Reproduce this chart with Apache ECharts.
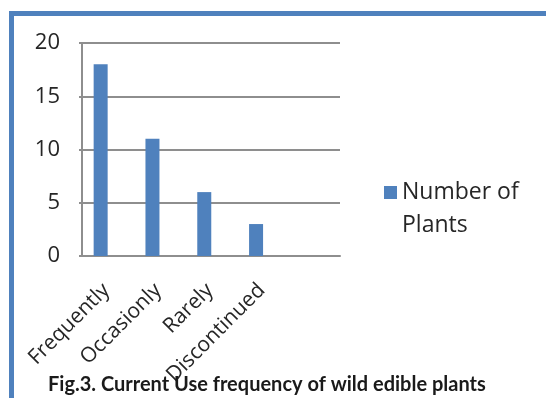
<!DOCTYPE html>
<html>
<head>
<meta charset="utf-8">
<script src="https://cdn.jsdelivr.net/npm/echarts@6/dist/echarts.min.js"></script>
<style>
  html, body { margin: 0; padding: 0; background: #fff; }
  #wrap { position: relative; width: 546px; height: 398px; overflow: hidden; }
  #chart { width: 546px; height: 398px; }
  /* blue frame on top and left */
  #frame {
    position: absolute; left: 9px; top: 11px; right: -10px; bottom: -10px;
    border-top: 5px solid #4f81bd; border-left: 5px solid #4f81bd;
    pointer-events: none;
  }
</style>
</head>
<body>
<div id="wrap">
  <div id="chart"></div>
  <div id="frame"></div>
</div>
<script>
// 数据
const categories = ['Frequently', 'Occasionly', 'Rarely', 'Discontinued'];
const plantCounts = [18, 11, 6, 3];
const yTicks = [0, 5, 10, 15, 20];
const seriesName = 'Number of Plants';
const caption = 'Fig.3. Current Use frequency of wild edible plants';

const labelShift = 0.11; // labels sit a little right of the bar, like Excel

const chart = echarts.init(document.getElementById('chart'), null, { renderer: 'canvas' });

const option = {
  animation: false,
  title: {
    text: caption,
    left: 48,
    top: 375,
    padding: 0,
    textStyle: { fontFamily: 'Lato', fontWeight: 'bold', fontSize: 20, color: '#1a1a1a' },
  },
  legend: {
    left: 384,
    top: 143,
    padding: 0,
    itemWidth: 13,
    itemHeight: 13,
    icon: 'rect',
    // 空的第一行让图标对齐第一行文字
    formatter: () => '\nNumber of\nPlants',
    textStyle: { fontFamily: 'Open Sans', fontSize: 23, color: '#262626', lineHeight: 33 },
  },
  grid: { left: 82, top: 43, width: 258, height: 213, containLabel: false },
  xAxis: {
    type: 'value',
    min: -0.36,
    max: 4.62,
    splitLine: { show: false },
    axisTick: { show: false },
    axisLine: { show: true, onZero: false, lineStyle: { color: '#8e8e8e', width: 2 } },
    axisLabel: {
      customValues: categories.map((c, i) => i + labelShift),
      formatter: (v) => categories[Math.round(v - labelShift)] || '',
      rotate: 45,
      margin: 31,
      fontFamily: 'Open Sans',
      fontSize: 21,
      color: '#262626',
    },
  },
  yAxis: {
    type: 'value',
    min: yTicks[0],
    max: yTicks[yTicks.length - 1],
    interval: 5,
    axisLine: { show: true, onZero: false, lineStyle: { color: '#8e8e8e', width: 2 } },
    axisTick: { show: true, length: 3, lineStyle: { color: '#8e8e8e', width: 2 } },
    splitLine: { show: true, lineStyle: { color: '#8e8e8e', width: 2 } },
    axisLabel: { margin: 22, fontFamily: 'Open Sans', fontSize: 22, color: '#262626' },
  },
  series: [
    {
      name: seriesName,
      type: 'bar',
      barWidth: 14,
      itemStyle: { color: '#4f81bd' },
      data: plantCounts.map((v, i) => [i, v]),
    },
  ],
};

chart.setOption(option);
</script>
</body>
</html>
